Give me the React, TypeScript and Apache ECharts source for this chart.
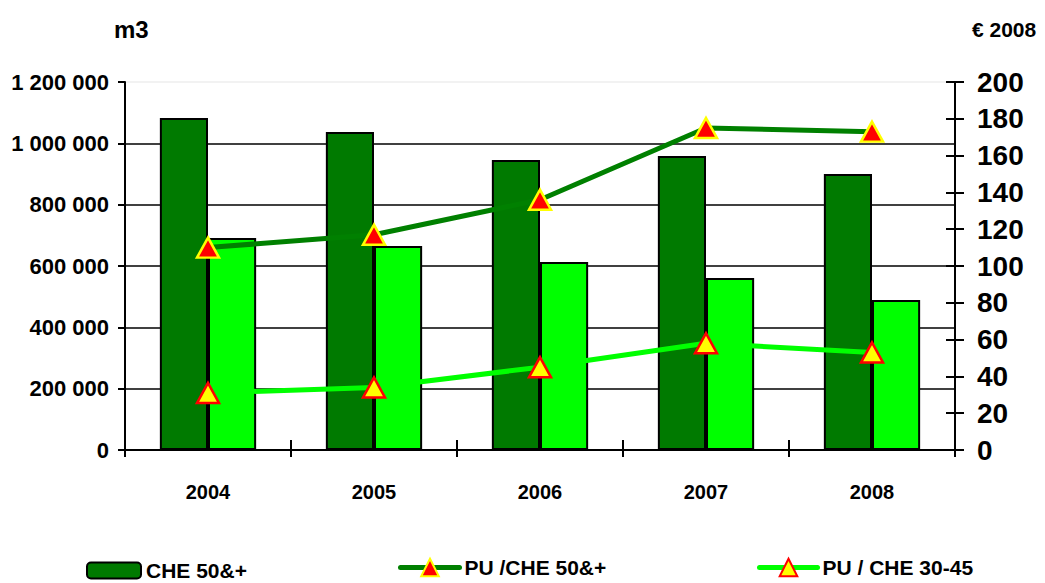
import React, { useEffect, useRef } from "react";
import * as echarts from "echarts";

const years = ["2004", "2005", "2006", "2007", "2008"];
const che50 = [1083000, 1037000, 946000, 959000, 900000];
const che3045 = [691000, 665000, 613000, 561000, 489000];
const puChe50 = [110, 117, 136, 175, 173];
const puChe3045 = [31, 34, 45, 58, 53];

const FONT = "'Liberation Sans', Arial, sans-serif";
const DARK = "#007A00";
const LIGHT = "#00FF00";

const fmtThousands = (v: number) =>
  String(v).replace(/\B(?=(\d{3})+(?!\d))/g, " ");

export default function App() {
  const ref = useRef<HTMLDivElement>(null);
  useEffect(() => {
    if (!ref.current) return;
    const chart = echarts.init(ref.current, undefined, { renderer: "svg" });
    const labelBase = { fontFamily: FONT, fontWeight: "bold" as const, color: "#000" };
    chart.setOption({
      animation: false,
      backgroundColor: "#fff",
      grid: { left: 125, right: 90, top: 82, bottom: 133 },
      graphic: [
        {
          type: "text",
          left: 114,
          top: 17,
          style: { text: "m3", font: `bold 24px ${FONT}`, fill: "#000" },
        },
        {
          type: "text",
          left: 972,
          top: 19,
          style: { text: "€ 2008", font: `bold 21px ${FONT}`, fill: "#000" },
        },
      ],
      legend: [
        {
          left: 81,
          top: 555,
          data: ["CHE 50&+"],
          itemWidth: 54,
          itemHeight: 16,
          itemStyle: { borderColor: "#000", borderWidth: 2 },
          textStyle: { ...labelBase, fontSize: 21, lineHeight: 21 },
        },
        {
          left: 393,
          top: 552,
          data: ["PU /CHE 50&+"],
          itemWidth: 59,
          itemHeight: 22,
          lineStyle: { width: 5, cap: "round" },
          textStyle: { ...labelBase, fontSize: 21, lineHeight: 21 },
        },
        {
          left: 752,
          top: 552,
          data: ["PU / CHE 30-45"],
          itemWidth: 58,
          itemHeight: 22,
          lineStyle: { width: 5, cap: "round" },
          textStyle: { ...labelBase, fontSize: 21, lineHeight: 21 },
        },
      ],
      xAxis: [
        {
          type: "category",
          data: years,
          axisLine: { lineStyle: { color: "#000", width: 2 } },
          axisTick: { show: true, length: 7, lineStyle: { color: "#000", width: 2 } },
          axisLabel: { ...labelBase, fontSize: 20, margin: 32 },
        },
        {
          type: "category",
          data: years,
          position: "bottom",
          axisLine: { show: false },
          axisTick: { show: true, inside: true, length: 10, lineStyle: { color: "#000", width: 2 } },
          axisLabel: { show: false },
        },
      ],
      yAxis: [
        {
          type: "value",
          min: 0,
          max: 1200000,
          interval: 200000,
          position: "left",
          axisLine: { show: true, lineStyle: { color: "#000", width: 2 } },
          axisTick: { show: true, length: 7, lineStyle: { color: "#000", width: 2 } },
          axisLabel: {
            ...labelBase,
            fontSize: 22,
            margin: 16,
            formatter: (v: number) => fmtThousands(v),
          },
          splitLine: {
            show: true,
            lineStyle: {
              color: ["#000", "#000", "#000", "#000", "#000", "#000", "#eeeeee"],
              width: 1.5,
            },
          },
        },
        {
          type: "value",
          min: 0,
          max: 200,
          interval: 20,
          position: "right",
          axisLine: { show: true, lineStyle: { color: "#000", width: 2 } },
          axisTick: { show: true, length: 9, lineStyle: { color: "#000", width: 2 } },
          axisLabel: { ...labelBase, fontSize: 28, margin: 22 },
          splitLine: { show: false },
        },
        {
          type: "value",
          min: 0,
          max: 200,
          interval: 20,
          position: "right",
          axisLine: { show: false },
          axisTick: { show: true, inside: true, length: 9, lineStyle: { color: "#000", width: 2 } },
          axisLabel: { show: false },
          splitLine: { show: false },
        },
      ],
      series: [
        {
          name: "CHE 50&+",
          type: "bar",
          data: che50,
          barGap: "0%",
          barCategoryGap: "42%",
          itemStyle: { color: DARK, borderColor: "#000", borderWidth: 2 },
        },
        {
          name: "CHE 30-45",
          type: "bar",
          data: che3045,
          barGap: "0%",
          barCategoryGap: "42%",
          itemStyle: { color: LIGHT, borderColor: "#000", borderWidth: 2 },
        },
        {
          name: "PU /CHE 50&+",
          type: "line",
          yAxisIndex: 1,
          data: puChe50,
          symbol: "triangle",
          symbolSize: [22, 20],
          lineStyle: { color: "#008000", width: 5 },
          itemStyle: { color: "#FF0000", borderColor: "#FFFF00", borderWidth: 2.5 },
          z: 5,
        },
        {
          name: "PU / CHE 30-45",
          type: "line",
          yAxisIndex: 1,
          data: puChe3045,
          symbol: "triangle",
          symbolSize: [22, 20],
          lineStyle: { color: LIGHT, width: 5 },
          itemStyle: { color: "#FFFF00", borderColor: "#FF0000", borderWidth: 2.5 },
          z: 5,
        },
      ],
    });
    return () => chart.dispose();
  }, []);
  return (
    <div
      ref={ref}
      style={{ position: "fixed", left: 0, top: 0, width: 1045, height: 583 }}
    />
  );
}
